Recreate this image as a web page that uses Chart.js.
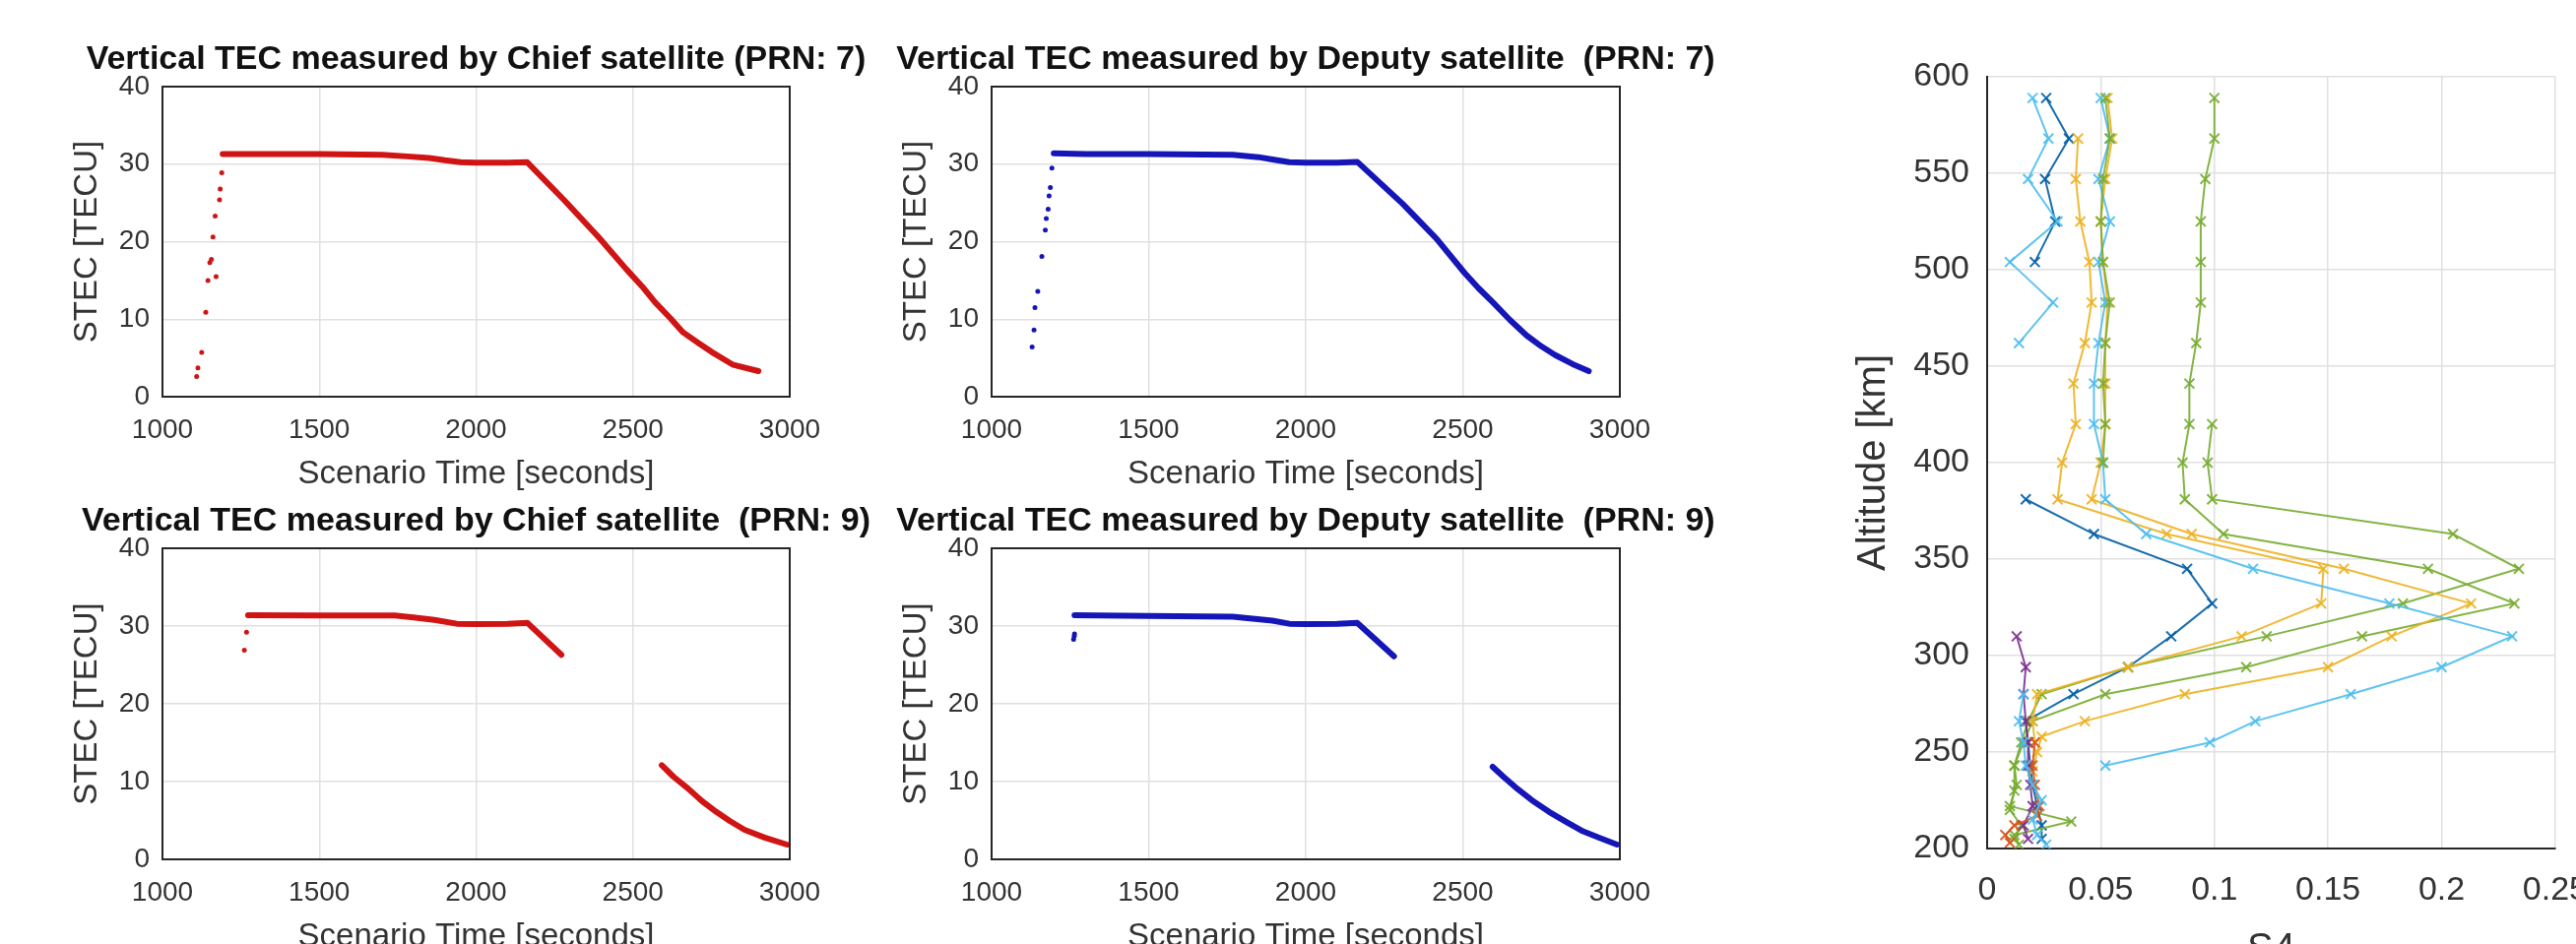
<!DOCTYPE html>
<html>
<head>
<meta charset="utf-8">
<script src="https://cdn.jsdelivr.net/npm/chart.js@4.4.0/dist/chart.umd.min.js"></script>
<style>
html, body { margin:0; padding:0; background:#fff; overflow:hidden; width:2616px; height:959px; position:relative; }
canvas { position:absolute; }
</style>
</head>
<body>
<canvas id="chief7"></canvas>
<canvas id="deputy7"></canvas>
<canvas id="chief9"></canvas>
<canvas id="deputy9"></canvas>
<canvas id="s4Chart"></canvas>
<script>
// ---- TEC data (time in seconds, STEC in TECU) ----
var chief7DotT = [1109, 1113, 1125, 1138, 1145, 1151, 1156, 1161, 1168, 1171, 1182, 1184, 1189];
var chief7DotV = [2.6, 3.7, 5.7, 10.9, 15.0, 17.3, 17.7, 20.6, 23.3, 15.5, 25.4, 26.8, 28.9];
var chief7T = [1192, 1300, 1500, 1700, 1780, 1850, 1900, 1950, 2000, 2100, 2163, 2280, 2390, 2480, 2530, 2570, 2620, 2660, 2710, 2750, 2820, 2900];
var chief7V = [31.3, 31.3, 31.3, 31.2, 31.0, 30.8, 30.5, 30.25, 30.2, 30.2, 30.25, 25.4, 20.6, 16.4, 14.2, 12.2, 10.1, 8.3, 6.9, 5.8, 4.1, 3.3];

var deputy7DotT = [1129, 1135, 1138, 1147, 1160, 1171, 1174, 1180, 1183, 1187, 1192];
var deputy7DotV = [6.4, 8.6, 11.5, 13.6, 18.1, 21.5, 23.0, 24.2, 25.9, 27.0, 29.5];
var deputy7T = [1198, 1300, 1500, 1768, 1850, 1894, 1948, 2000, 2100, 2164, 2308, 2416, 2505, 2550, 2595, 2650, 2703, 2750, 2793, 2850, 2901];
var deputy7V = [31.4, 31.3, 31.3, 31.2, 30.9, 30.6, 30.25, 30.2, 30.2, 30.3, 24.9, 20.4, 16.0, 14.0, 12.2, 9.9, 7.9, 6.5, 5.4, 4.2, 3.3];

var chief9DotT = [1261, 1268];
var chief9DotV = [26.9, 29.2];
var chief9T = [1273, 1500, 1741, 1800, 1867, 1939, 2000, 2100, 2164, 2272];
var chief9V = [31.4, 31.35, 31.35, 31.1, 30.8, 30.3, 30.25, 30.3, 30.4, 26.3];
var chief9LateT = [2592, 2630, 2676, 2720, 2766, 2810, 2856, 2920, 2991];
var chief9LateV = [12.1, 10.6, 9.1, 7.5, 6.1, 4.9, 3.8, 2.8, 1.9];

var deputy9DotT = [1261, 1263, 1264];
var deputy9DotV = [28.3, 28.7, 29.0];
var deputy9T = [1264, 1500, 1768, 1894, 1948, 2000, 2100, 2164, 2281];
var deputy9V = [31.4, 31.3, 31.2, 30.7, 30.3, 30.25, 30.3, 30.4, 26.1];
var deputy9LateT = [2595, 2630, 2667, 2720, 2775, 2830, 2883, 2940, 2991];
var deputy9LateV = [11.9, 10.6, 9.3, 7.6, 6.1, 4.8, 3.6, 2.7, 1.9];

var timeTicks = [1000, 1500, 2000, 2500, 3000];
var tecTicks = [0, 10, 20, 30, 40];

// ---- S4 profiles (altitude km, S4) ----
var blueTopAlt = [589, 568, 547, 525, 504];
var blueTopS4 = [0.026, 0.036, 0.0255, 0.030, 0.021];
var blueLowAlt = [381, 363, 345, 327, 310, 294, 280, 266, 255, 243, 233, 222, 212, 205];
var blueLowS4 = [0.017, 0.047, 0.088, 0.099, 0.081, 0.062, 0.038, 0.017, 0.018, 0.019, 0.020, 0.022, 0.024, 0.024];
var cyanTopAlt = [589, 568, 547, 525, 504, 483, 462];
var cyanTopS4 = [0.020, 0.027, 0.018, 0.031, 0.010, 0.029, 0.014];
var cyanAlt = [589, 568, 547, 525, 504, 483, 462, 441, 420, 400, 381, 363, 345, 327, 310, 294, 280, 266, 255, 243];
var cyanS4 = [0.050, 0.054, 0.049, 0.054, 0.049, 0.052, 0.049, 0.047, 0.047, 0.051, 0.052, 0.070, 0.117, 0.177, 0.231, 0.200, 0.160, 0.118, 0.098, 0.052];
var cyanLowAlt = [280, 266, 255, 243, 233, 225, 215, 207, 202];
var cyanLowS4 = [0.016, 0.014, 0.016, 0.017, 0.020, 0.024, 0.020, 0.022, 0.026];
var greenMidAlt = [589, 568, 547, 525, 504, 483, 462, 441, 420, 400];
var greenMidS4 = [0.052, 0.054, 0.051, 0.050, 0.051, 0.054, 0.052, 0.051, 0.052, 0.051];
var yellowAAlt = [568, 547, 525, 504, 483, 462, 441, 420, 400, 381, 363, 345, 327, 310, 294, 280, 266, 255];
var yellowAS4 = [0.040, 0.039, 0.041, 0.045, 0.046, 0.043, 0.038, 0.039, 0.033, 0.031, 0.079, 0.148, 0.147, 0.112, 0.062, 0.022, 0.020, 0.021];
var yellowBAlt = [589, 568, 547, 525, 504, 483, 462, 441, 420, 400, 381, 363, 345, 327, 310, 294, 280, 266, 258, 250, 240];
var yellowBS4 = [0.053, 0.055, 0.052, 0.050, 0.051, 0.053, 0.052, 0.052, 0.052, 0.050, 0.046, 0.090, 0.157, 0.213, 0.178, 0.150, 0.087, 0.043, 0.024, 0.022, 0.020];
var greenAAlt = [589, 568, 547, 525, 504, 483, 462, 441, 420, 400, 381, 363, 345, 327, 310, 294, 280, 266, 255, 243, 230, 220, 212, 205];
var greenAS4 = [0.100, 0.100, 0.096, 0.094, 0.094, 0.094, 0.092, 0.089, 0.089, 0.086, 0.087, 0.104, 0.194, 0.232, 0.165, 0.114, 0.052, 0.020, 0.016, 0.012, 0.012, 0.010, 0.015, 0.012];
var greenBAlt = [420, 400, 381, 363, 345, 327, 310, 294, 280, 266, 255, 243, 233, 222, 214, 207, 202];
var greenBS4 = [0.099, 0.097, 0.099, 0.205, 0.234, 0.183, 0.123, 0.062, 0.024, 0.018, 0.015, 0.012, 0.013, 0.010, 0.037, 0.012, 0.014];
var purpleAlt = [310, 294, 280, 266, 255, 243, 233, 222, 212, 205];
var purpleS4 = [0.013, 0.017, 0.016, 0.017, 0.018, 0.018, 0.019, 0.020, 0.016, 0.018];
var redAlt = [255, 243, 233, 222, 217, 212, 207, 203];
var redS4 = [0.021, 0.020, 0.021, 0.023, 0.022, 0.012, 0.008, 0.010];

var altTicks = [200, 250, 300, 350, 400, 450, 500, 550, 600];
var s4Ticks = [0, 0.05, 0.1, 0.15, 0.2, 0.25];

var FONT = '"Liberation Sans", Arial, Helvetica, sans-serif';
var TXT = '#333333';
var GRID = '#e0e0e0';

function pairs(xs, ys) {
	var out = [];
	for (var i = 0; i < xs.length; i++) out.push({x: xs[i], y: ys[i]});
	return out;
}

function plainNum(v) {
	return String(+Number(v).toFixed(2));
}

// box around the plot area, like matlab "box on"
var framePlugin = {
	id: 'frame',
	afterDraw: function(chart) {
		var a = chart.chartArea;
		var ctx = chart.ctx;
		ctx.save();
		ctx.strokeStyle = '#262626';
		ctx.lineWidth = 2;
		ctx.strokeRect(a.left, a.top, a.right - a.left, a.bottom - a.top);
		ctx.restore();
	}
};

function tecChart(id, plotLeft, plotTop, plotW, plotH, title, color, segments, dotsT, dotsV) {
	var cv = document.getElementById(id);
	cv.width = plotW + 330;
	cv.height = plotH + 188;
	cv.style.left = (plotLeft - 165) + 'px';
	cv.style.top = (plotTop - 88) + 'px';

	var ds = [];
	segments.forEach(function(seg) {
		ds.push({
			data: pairs(seg[0], seg[1]),
			showLine: true,
			borderColor: color,
			borderWidth: 6,
			borderJoinStyle: 'round',
			borderCapStyle: 'round',
			pointRadius: 0,
			tension: 0
		});
	});
	ds.push({
		data: pairs(dotsT, dotsV),
		showLine: false,
		pointRadius: 2.5,
		pointBackgroundColor: color,
		pointBorderWidth: 0
	});

	new Chart(cv, {
		type: 'scatter',
		data: { datasets: ds },
		options: {
			responsive: false,
			animation: false,
			events: [],
			layout: { padding: 0 },
			plugins: {
				legend: { display: false },
				tooltip: { enabled: false },
				title: {
					display: true,
					text: title,
					color: '#111',
					font: { family: FONT, size: 34, weight: 'bold' },
					padding: { top: 40, bottom: 7.2 }
				}
			},
			scales: {
				x: {
					type: 'linear', position: 'bottom',
					min: timeTicks[0], max: timeTicks[timeTicks.length - 1],
					afterBuildTicks: function(s) { s.ticks = timeTicks.map(function(v) { return {value: v}; }); },
					ticks: { padding: 17, color: TXT, font: { family: FONT, size: 28 }, maxRotation: 0, autoSkip: false, callback: plainNum },
					grid: { color: GRID, lineWidth: 1.5, drawTicks: false },
					border: { display: false },
					title: { display: true, text: 'Scenario Time [seconds]', color: TXT, font: { family: FONT, size: 33 }, padding: { top: 0, bottom: 1 } },
					afterFit: function(s) { s.height = 100; }
				},
				y: {
					type: 'linear', position: 'left',
					min: tecTicks[0], max: tecTicks[tecTicks.length - 1],
					afterBuildTicks: function(s) { s.ticks = tecTicks.map(function(v) { return {value: v}; }); },
					ticks: { padding: 13, color: TXT, font: { family: FONT, size: 28 }, callback: plainNum },
					grid: { color: GRID, lineWidth: 1.5, drawTicks: false },
					border: { display: false },
					title: { display: true, text: 'STEC [TECU]', color: TXT, font: { family: FONT, size: 33 }, padding: { top: 69, bottom: 0 } },
					afterFit: function(s) { s.width = 165; }
				},
				spacer: {
					type: 'linear', position: 'right', axis: 'y',
					ticks: { display: false },
					grid: { display: false },
					border: { display: false },
					afterFit: function(s) { s.width = 165; }
				}
			}
		},
		plugins: [framePlugin]
	});
}

tecChart('chief7', 165, 88, 637, 315, 'Vertical TEC measured by Chief satellite (PRN: 7)', '#d01414',
	[[chief7T, chief7V]], chief7DotT, chief7DotV);
tecChart('deputy7', 1007, 88, 638, 315, 'Vertical TEC measured by Deputy satellite  (PRN: 7)', '#1616b8',
	[[deputy7T, deputy7V]], deputy7DotT, deputy7DotV);
tecChart('chief9', 165, 557, 637, 316, 'Vertical TEC measured by Chief satellite  (PRN: 9)', '#d01414',
	[[chief9T, chief9V], [chief9LateT, chief9LateV]], chief9DotT, chief9DotV);
tecChart('deputy9', 1007, 557, 638, 316, 'Vertical TEC measured by Deputy satellite  (PRN: 9)', '#1616b8',
	[[deputy9T, deputy9V], [deputy9LateT, deputy9LateV]], deputy9DotT, deputy9DotV);

// ---- S4 altitude profiles ----
function profile(s4, alt, color) {
	return {
		data: pairs(s4, alt),
		showLine: true,
		borderColor: color,
		borderWidth: 2,
		pointStyle: 'crossRot',
		pointRadius: 7,
		pointBorderColor: color,
		pointBorderWidth: 2
	};
}

var s4cv = document.getElementById('s4Chart');
s4cv.width = 800;
s4cv.height = 1000;
s4cv.style.left = '1850px';
s4cv.style.top = '0px';

new Chart(s4cv, {
	type: 'scatter',
	data: {
		datasets: [
			profile(cyanLowS4, cyanLowAlt, 'rgba(77,190,238,0.9)'),
			profile(redS4, redAlt, 'rgba(217,83,25,0.9)'),
			profile(purpleS4, purpleAlt, 'rgba(126,47,142,0.9)'),
			profile(greenMidS4, greenMidAlt, 'rgba(119,172,48,0.85)'),
			profile(cyanS4, cyanAlt, 'rgba(77,190,238,0.9)'),
			profile(yellowAS4, yellowAAlt, 'rgba(237,177,32,0.9)'),
			profile(yellowBS4, yellowBAlt, 'rgba(237,177,32,0.9)'),
			profile(greenAS4, greenAAlt, 'rgba(119,172,48,0.9)'),
			profile(greenBS4, greenBAlt, 'rgba(119,172,48,0.9)'),
			profile(cyanTopS4, cyanTopAlt, 'rgba(77,190,238,0.9)'),
			profile(blueTopS4, blueTopAlt, 'rgba(0,94,165,0.9)'),
			profile(blueLowS4, blueLowAlt, 'rgba(0,94,165,0.9)')
		]
	},
	options: {
		responsive: false,
		animation: false,
		events: [],
		layout: { padding: { top: 78, right: 40, left: 0, bottom: 0 } },
		plugins: { legend: { display: false }, tooltip: { enabled: false } },
		scales: {
			x: {
				type: 'linear', position: 'bottom',
				min: s4Ticks[0], max: s4Ticks[s4Ticks.length - 1],
				afterBuildTicks: function(s) { s.ticks = s4Ticks.map(function(v) { return {value: v}; }); },
				ticks: { padding: 22, color: TXT, font: { family: FONT, size: 34 }, maxRotation: 0, autoSkip: false, callback: plainNum },
				grid: { color: GRID, lineWidth: 1.5, drawTicks: false },
				border: { display: true, color: '#262626', width: 2 },
				title: { display: true, text: 'S4', color: TXT, font: { family: FONT, size: 40 }, padding: { top: 0, bottom: 11 } },
				afterFit: function(s) { s.height = 138; }
			},
			y: {
				type: 'linear', position: 'left',
				min: altTicks[0], max: altTicks[altTicks.length - 1],
				afterBuildTicks: function(s) { s.ticks = altTicks.map(function(v) { return {value: v}; }); },
				ticks: { padding: 18, color: TXT, font: { family: FONT, size: 34 }, callback: plainNum },
				grid: { color: GRID, lineWidth: 1.5, drawTicks: false },
				border: { display: true, color: '#262626', width: 2 },
				title: { display: true, text: 'Altitude [km]', color: TXT, font: { family: FONT, size: 40 }, padding: { top: 29, bottom: 0 } },
				afterFit: function(s) { s.width = 168; }
			}
		}
	}
});
</script>
</body>
</html>
